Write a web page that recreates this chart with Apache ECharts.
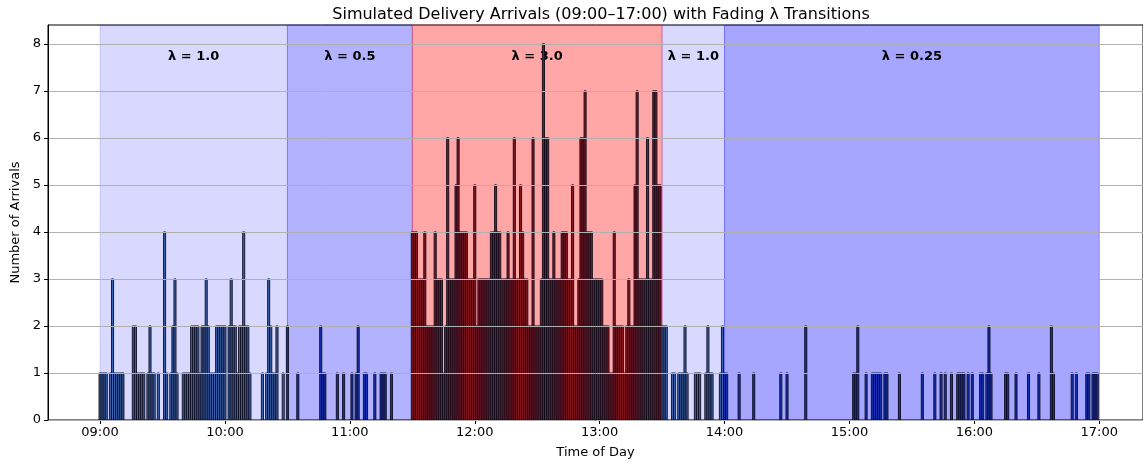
<!DOCTYPE html>
<html>
<head>
<meta charset="utf-8">
<script src="https://cdn.jsdelivr.net/npm/echarts@6/dist/echarts.min.js"></script>
<style>
  html, body { margin: 0; padding: 0; background: #fff; }
  #chart { width: 1143px; height: 465px; }
</style>
</head>
<body>
<div id="chart"></div>
<script>
// arrivals per minute, 09:00 .. 16:59 (one row = 10 minutes)
const arrivals = [
  1,1,1,1,0,1,3,1,1,1,  1,1,0,0,0,0,2,2,1,1,  1,1,0,1,2,1,1,0,1,0,
  0,4,1,0,1,2,3,1,0,0,  1,1,1,1,2,2,2,2,1,2,  2,3,2,1,1,1,2,2,2,2,
  2,0,2,3,2,2,1,2,2,4,  2,2,1,0,0,0,0,0,1,0,  1,3,2,1,1,2,0,0,1,0,
  2,0,0,0,0,1,0,0,0,0,  0,0,0,0,0,0,2,1,1,0,  0,0,0,0,1,0,0,1,0,0,
  0,1,0,1,2,0,0,1,1,0,  0,0,1,0,0,1,1,1,0,0,  1,0,0,0,0,0,0,0,0,0,
  4,4,4,3,3,3,4,2,2,2,  2,4,3,3,3,1,2,6,3,3,  3,5,6,4,4,4,4,3,3,3,
  5,2,3,3,3,3,3,3,4,4,  5,4,4,3,3,3,4,3,3,6,  3,3,5,4,3,3,2,2,6,2,
  2,2,3,8,6,6,3,3,4,3,  3,3,4,4,4,3,3,5,2,2,  3,6,6,7,4,4,4,3,3,3,
  3,3,2,2,2,1,1,4,2,2,  2,2,1,2,3,2,2,5,7,3,  3,3,3,6,3,3,7,7,5,5,
  2,2,2,0,0,1,1,0,1,1,  1,2,1,0,0,0,1,1,1,0,  0,1,2,1,1,0,0,0,1,2,
  1,1,0,0,0,0,0,1,0,0,  0,0,0,0,1,0,0,0,0,0,  0,0,0,0,0,0,0,1,0,0,
  1,0,0,0,0,0,0,0,0,2,  0,0,0,0,0,0,0,0,0,0,  0,0,0,0,0,0,0,0,0,0,
  0,0,1,1,2,0,0,0,1,0,  0,1,1,1,1,1,0,1,1,0,  0,0,0,0,1,0,0,0,0,0,
  0,0,0,0,0,1,0,0,0,0,  0,1,0,0,1,0,1,0,0,1,  0,0,1,1,1,1,0,1,0,1,
  0,0,0,1,1,0,1,2,1,0,  0,0,0,0,0,1,1,0,0,0,  1,0,0,0,0,0,1,0,0,0,
  0,1,0,0,0,0,0,2,1,0,  0,0,0,0,0,0,0,1,0,1,  0,0,0,0,1,1,0,1,1,1,
];

// rate regions, in minutes after 09:00
const regionStart = [0, 90, 150, 270, 300];
const regionEnd = [90, 150, 270, 300, 480];
const regionLambda = ["1.0", "0.5", "3.0", "1.0", "0.25"];

const hourTicks = [0, 60, 120, 180, 240, 300, 360, 420, 480];
const countTicks = [0, 1, 2, 3, 4, 5, 6, 7, 8];

// styles
const shade = [
  "rgba(0,0,255,0.15)",
  "rgba(0,0,255,0.30)",
  "rgba(255,0,0,0.35)",
  "rgba(0,0,255,0.15)",
  "rgba(0,0,255,0.35)",
];
const barFill = ["#3a62b0", "#1530b8", "#8a1420", "#3a62b0", "#1530b8"];
const barEdge = "#0c0c1c";
const font = "DejaVu Sans";

function regionOf(m) {
  for (let i = 0; i < regionStart.length; i++) {
    if (m >= regionStart[i] && m < regionEnd[i]) return i;
  }
  return regionStart.length - 1;
}

function clock(m) {
  const h = 9 + Math.floor(m / 60);
  const mm = m % 60;
  return String(h).padStart(2, "0") + ":" + String(mm).padStart(2, "0");
}

const points = arrivals
  .map((v, i) => [i, v])
  .filter((p) => p[1] > 0);

const chart = echarts.init(document.getElementById("chart"));

chart.setOption({
  animation: false,
  textStyle: { fontFamily: font },
  title: {
    text: "Simulated Delivery Arrivals (09:00\u201317:00) with Fading \u03bb Transitions",
    left: 596,
    top: 2,
    textAlign: "center",
    textStyle: { fontFamily: font, fontSize: 16, fontWeight: "normal", color: "#000" },
  },
  grid: {
    left: 48, right: 0, top: 25, bottom: 45,
    show: true, borderColor: "#000", borderWidth: 1,
  },
  xAxis: {
    type: "value",
    min: -25,
    max: 501,
    name: "Time of Day",
    nameLocation: "middle",
    nameGap: 26,
    nameTextStyle: { fontFamily: font, fontSize: 13, color: "#000" },
    axisLine: { show: true, onZero: false, lineStyle: { color: "#000" } },
    axisTick: { show: true, length: 4, customValues: hourTicks, lineStyle: { color: "#000" } },
    axisLabel: {
      customValues: hourTicks,
      formatter: (v) => clock(v),
      margin: 6,
      fontFamily: font, fontSize: 13, color: "#000",
    },
    splitLine: { show: false },
  },
  yAxis: {
    type: "value",
    min: 0,
    max: 8.4,
    interval: 1,
    z: 3,
    name: "Number of Arrivals",
    nameLocation: "middle",
    nameGap: 23,
    nameTextStyle: { fontFamily: font, fontSize: 13, color: "#000" },
    axisLine: { show: true, onZero: false, lineStyle: { color: "#000" } },
    axisTick: { show: true, length: 4, customValues: countTicks, lineStyle: { color: "#000" } },
    axisLabel: {
      customValues: countTicks,
      formatter: (v) => (Number.isInteger(v) ? String(v) : ""),
      margin: 7,
      fontFamily: font, fontSize: 13, color: "#000",
    },
    splitLine: { show: true, lineStyle: { color: "#b0b0b0", width: 1 } },
  },
  series: [
    {
      type: "line",
      data: [],
      z: 1,
      silent: true,
      markArea: {
        silent: true,
        data: regionStart.map((s, i) => [
          {
            xAxis: s,
            name: "\u03bb = " + regionLambda[i],
            itemStyle: { color: shade[i], borderColor: shade[i], borderWidth: 1 },
          },
          { xAxis: regionEnd[i] },
        ]),
        label: {
          show: true,
          position: "insideTop",
          distance: 26,
          fontFamily: font,
          fontSize: 13,
          fontWeight: "bold",
          color: "#000",
        },
      },
    },
    {
      type: "custom",
      z: 2,
      clip: true,
      data: points,
      renderItem: function (params, api) {
        const m = api.value(0);
        const v = api.value(1);
        const a = api.coord([m - 0.5, v]);
        const b = api.coord([m + 0.5, 0]);
        return {
          type: "rect",
          shape: { x: a[0], y: a[1], width: b[0] - a[0], height: b[1] - a[1] },
          style: { fill: barFill[regionOf(m)], stroke: barEdge, lineWidth: 0.9 },
        };
      },
    },
  ],
});
</script>
</body>
</html>
